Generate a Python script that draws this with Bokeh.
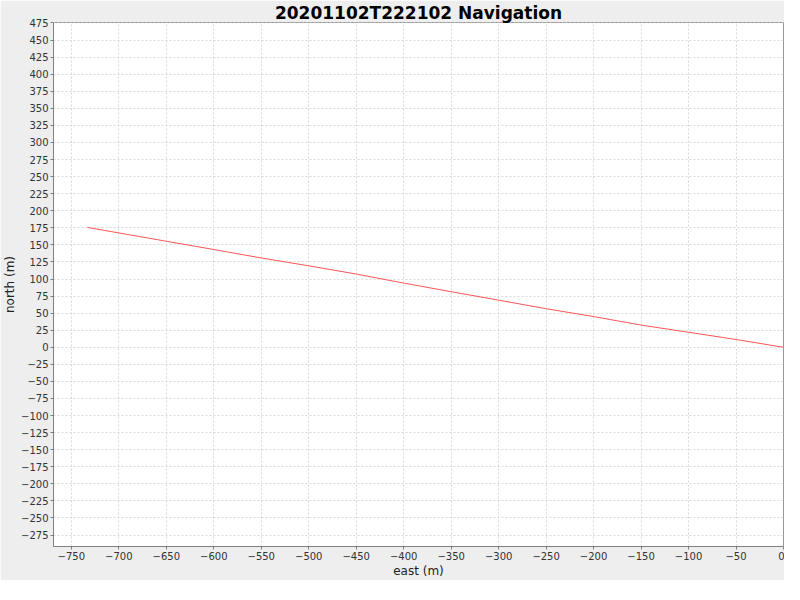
from bokeh.plotting import figure
from bokeh.models import Range1d, FixedTicker
from bokeh.embed import file_html
from bokeh.resources import INLINE

title = "20201102T222102 Navigation"
east = [-733, -700, -650, -600, -550, -500, -450, -400, -350, -300, -250, -200, -150, -100, -50, 0]
north = [175.5, 167.5, 155.3, 143.2, 130.8, 119.3, 107.3, 94.0, 81.4, 69.0, 56.5, 45.0, 32.5, 22.0, 11.4, 0.0]
x_ticks = list(range(-750, 1, 50))
y_ticks = list(range(-275, 476, 25))

p = figure(frame_width=730, frame_height=524, output_backend="svg", toolbar_location=None,
           x_range=Range1d(-768.8, 0), y_range=Range1d(-291.8, 475.7),
           min_border_left=0, min_border_right=1, min_border_top=0, min_border_bottom=0)
p.title.text = title
p.title.align = "center"
p.title.text_font = "DejaVu Sans"
p.title.text_font_style = "bold"
p.title.text_font_size = "17px"
p.title.text_color = "black"
p.title.standoff = 0
p.title.offset = 0
p.border_fill_color = "#EEEEEE"
p.background_fill_color = "white"
p.outline_line_color = "#999999"

p.line(east, north, line_color="#FF5555", line_width=1)

for ax in (p.xaxis, p.yaxis):
    ax.major_label_text_font = "DejaVu Sans"
    ax.major_label_text_font_size = "10px"
    ax.major_label_text_color = "#333333"
    ax.axis_label_text_font = "DejaVu Sans"
    ax.axis_label_text_font_size = "12px"
    ax.axis_label_text_font_style = "normal"
    ax.axis_label_text_color = "#222222"
    ax.axis_line_color = "#808080"
    ax.major_tick_line_color = "#808080"
    ax.major_tick_out = 3
    ax.major_tick_in = 0
    ax.minor_tick_line_color = None
    ax.major_label_standoff = 2
    ax.axis_label_standoff = 1

p.xaxis.axis_label = "east (m)"
p.yaxis.axis_label = "north (m)"
p.xaxis.ticker = FixedTicker(ticks=x_ticks)
p.yaxis.ticker = FixedTicker(ticks=y_ticks)

for g in (p.xgrid, p.ygrid):
    g.grid_line_color = "#D8D8D8"
    g.grid_line_dash = "2 2"
    g.grid_line_width = 1
p.xgrid.ticker = FixedTicker(ticks=x_ticks)
p.ygrid.ticker = FixedTicker(ticks=y_ticks)

open("out.html", "w").write(file_html(p, INLINE))
